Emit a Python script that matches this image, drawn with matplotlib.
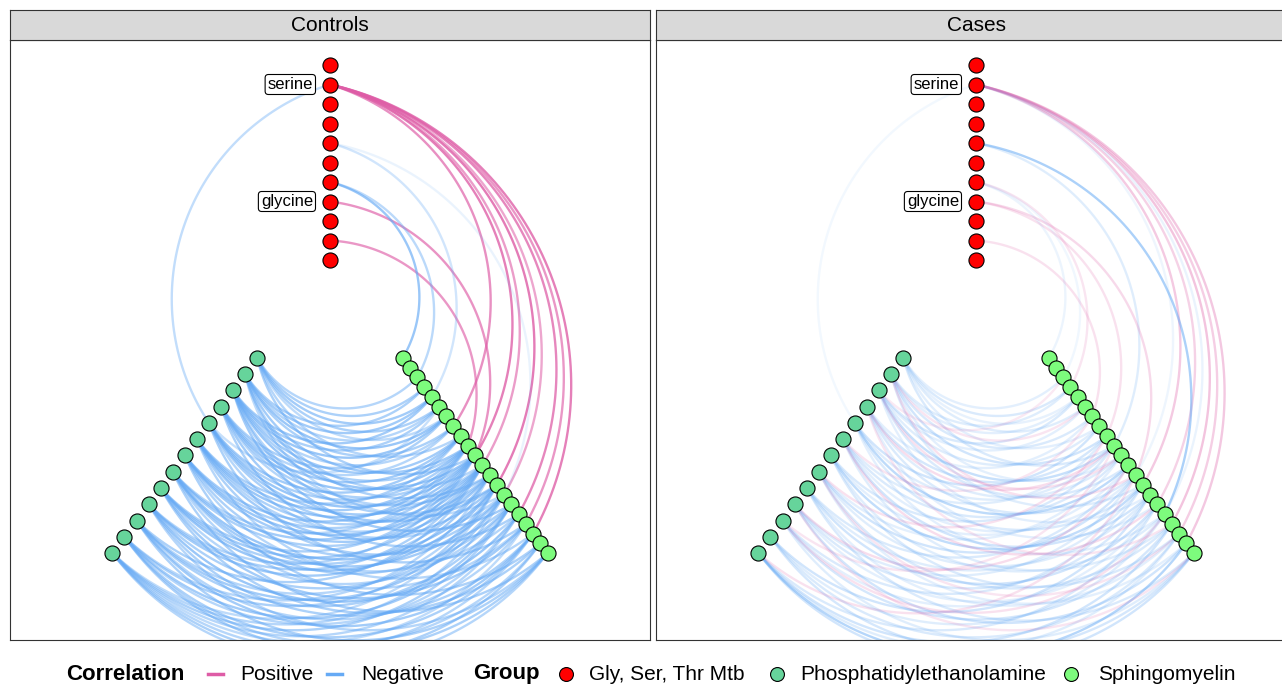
import numpy as np
import matplotlib
matplotlib.use('Agg')
import matplotlib.pyplot as plt
from matplotlib.lines import Line2D

plt.rcParams['font.family'] = ['Liberation Sans', 'DejaVu Sans']

# ---- data -------------------------------------------------------------
# hive axes: number of nodes on each axis (index 0 = closest to the centre)
n_red = 11   # Gly, Ser, Thr Mtb
n_pe = 13    # Phosphatidylethanolamine
n_sm = 21    # Sphingomyelin
red_labels = {9: 'serine', 3: 'glycine'}

# edges: (from node, [to nodes], [correlation])
ctrl_red_sm = [
    (9, [7, 10, 11, 13, 14, 16, 17, 18], [0.62, 0.70, 0.55, 0.72, 0.50, 0.66, 0.58, 0.70]),
    (3, [10], [0.60]),
    (1, [9], [0.58]),
    (6, [4, 14], [-0.30, -0.16]),
    (4, [0, 2], [-0.60, -0.42]),
]
ctrl_red_pe = [(9, [4], [-0.38])]
ctrl_pe_sm = [
    (0, [2, 3, 4, 5, 6, 8, 10], [-0.45, -0.50, -0.55, -0.50, -0.40, -0.45, -0.50]),
    (1, [3, 4, 5, 6, 7, 9, 11, 12, 14], [-0.50, -0.55, -0.45, -0.60, -0.50, -0.55, -0.45, -0.50, -0.40]),
    (2, [4, 5, 6, 7, 8, 9, 10, 12, 13, 15], [-0.55, -0.50, -0.60, -0.45, -0.55, -0.50, -0.60, -0.45, -0.50, -0.55]),
    (3, [6, 7, 8, 9, 10, 11, 13, 16], [-0.50, -0.45, -0.55, -0.60, -0.50, -0.45, -0.55, -0.50]),
    (4, [5, 8, 9, 10, 11, 12, 14, 17], [-0.35, -0.55, -0.50, -0.60, -0.55, -0.50, -0.45, -0.50]),
    (5, [8, 9, 10, 11, 12, 13, 15, 18], [-0.50, -0.55, -0.60, -0.50, -0.45, -0.55, -0.50, -0.45]),
    (6, [9, 10, 11, 12, 14, 16, 19], [-0.55, -0.50, -0.60, -0.55, -0.50, -0.45, -0.50]),
    (7, [9, 10, 11, 13, 14, 15, 17, 20], [-0.45, -0.55, -0.50, -0.60, -0.55, -0.50, -0.45, -0.50]),
    (8, [10, 11, 12, 13, 15, 17, 19], [-0.50, -0.55, -0.50, -0.60, -0.45, -0.55, -0.50]),
    (9, [10, 11, 12, 14, 16, 18, 20], [-0.45, -0.50, -0.55, -0.50, -0.60, -0.50, -0.45]),
    (10, [11, 13, 14, 15, 17, 18, 20], [-0.50, -0.45, -0.55, -0.50, -0.45, -0.55, -0.50]),
    (11, [12, 13, 15, 16, 18, 19, 20], [-0.45, -0.50, -0.55, -0.45, -0.50, -0.45, -0.50]),
    (12, [13, 14, 15, 16, 17, 18, 19, 20], [-0.40, -0.45, -0.50, -0.45, -0.40, -0.45, -0.50, -0.45]),
]

case_red_sm = [
    (9, [13, 15, 17, 18, 19], [0.32, 0.28, 0.35, 0.30, 0.33]),
    (9, [12, 16], [-0.14, -0.16]),
    (6, [16, 9], [-0.50, -0.22]),
    (4, [0, 2], [-0.15, -0.13]),
    (4, [3], [0.18]),
    (3, [8, 12], [0.20, 0.24]),
    (1, [6], [0.20]),
]
case_red_pe = [(9, [4], [-0.12])]
case_pe_sm = [
    (0, [2, 3, 4, 5, 7, 9], [-0.20, -0.25, -0.18, -0.22, -0.20, -0.25]),
    (1, [3, 4, 6, 8, 10, 13], [-0.22, -0.20, -0.25, -0.30, -0.20, -0.22]),
    (2, [4, 5, 7, 9, 11, 14], [-0.25, -0.20, -0.22, -0.35, -0.25, -0.20]),
    (3, [6, 8, 10, 12, 15], [-0.20, -0.28, -0.22, -0.25, -0.20]),
    (4, [7, 9, 11, 13, 16], [-0.30, -0.22, -0.40, -0.25, -0.20]),
    (5, [8, 10, 12, 14, 17], [-0.22, -0.25, -0.20, -0.30, -0.22]),
    (6, [9, 11, 13, 16, 18], [-0.25, -0.20, -0.38, -0.22, -0.25]),
    (7, [10, 12, 14, 17, 19], [-0.20, -0.30, -0.22, -0.25, -0.20]),
    (8, [11, 13, 15, 18, 20], [-0.25, -0.22, -0.30, -0.20, -0.25]),
    (9, [12, 14, 16, 19], [-0.22, -0.25, -0.20, -0.30]),
    (10, [13, 15, 17, 20], [-0.25, -0.20, -0.28, -0.22]),
    (11, [14, 16, 18, 20], [-0.30, -0.22, -0.25, -0.28]),
    (12, [15, 17, 18, 19, 20], [-0.25, -0.30, -0.22, -0.45, -0.30]),
    (1, [5, 12], [0.18, 0.20]),
    (2, [2, 10], [0.16, 0.20]),
    (3, [9, 17], [0.22, 0.18]),
    (5, [6, 15], [0.18, 0.22]),
    (7, [8, 18], [0.20, 0.18]),
    (9, [11, 20], [0.22, 0.18]),
    (10, [9, 16], [0.18, 0.20]),
    (12, [12], [0.20]),
]

panels = ['Controls', 'Cases']
group_names = ['Gly, Ser, Thr Mtb', 'Phosphatidylethanolamine', 'Sphingomyelin']

# ---- layout / style -----------------------------------------------------
group_cols = {'red': '#FF0000', 'pe': '#66D49B', 'sm': '#7DFB7D'}
pos_col = '#DE5CA6'
neg_col = '#66AAF5'
axis_angle = {'red': 90.0, 'pe': 233.4, 'sm': 306.6}
axis_r = {'red': np.linspace(0, 195, n_red),
          'pe': np.linspace(122, 365, n_pe),
          'sm': np.linspace(122, 365, n_sm)}


def node_xy(axis, i):
    a = np.deg2rad(axis_angle[axis])
    r = axis_r[axis][i]
    return np.array([r * np.cos(a), r * np.sin(a)])


def arc(p0, p1, curv=0.5, n=80):
    # circular arc between two nodes, bulging away from the hive centre
    mid = (p0 + p1) / 2
    d = p1 - p0
    L = np.hypot(d[0], d[1])
    perp = np.array([-d[1], d[0]]) / L
    if np.dot(perp, mid) < 0:
        perp = -perp
    h = L / 2
    s = curv * h
    R = (h * h + s * s) / (2 * s)
    c = mid - (R - s) * perp
    a0 = np.arctan2(p0[1] - c[1], p0[0] - c[0])
    a1 = np.arctan2(p1[1] - c[1], p1[0] - c[0])
    da = (a1 - a0 + np.pi) % (2 * np.pi) - np.pi
    t = np.linspace(a0, a0 + da, n)
    return c[0] + R * np.cos(t), c[1] + R * np.sin(t)


def alpha_of(r):
    return float(np.interp(abs(r), [0.1, 0.8], [0.06, 0.9]))


def draw_edges(ax, edges, ax_from, ax_to):
    for src, dsts, rs in edges:
        for dst, r in zip(dsts, rs):
            x, y = arc(node_xy(ax_from, src), node_xy(ax_to, dst))
            ax.plot(x, y, color=pos_col if r > 0 else neg_col,
                    alpha=alpha_of(r), lw=1.7, solid_capstyle='butt', zorder=2)


W, H = 1282, 684
fig = plt.figure(figsize=(W / 100, H / 100), dpi=100)

panel_left = [10, 656]
panel_edges = [(ctrl_red_sm, ctrl_red_pe, ctrl_pe_sm), (case_red_sm, case_red_pe, case_pe_sm)]

for k, name in enumerate(panels):
    x0 = panel_left[k] / W
    ax = fig.add_axes([x0, 44 / H, 640 / W, 600 / H])
    ax.set_xlim(-320, 320)
    ax.set_ylim(-380, 220)
    ax.set_xticks([])
    ax.set_yticks([])
    for sp in ax.spines.values():
        sp.set_color('#333333')
        sp.set_linewidth(0.8)

    red_sm, red_pe, pe_sm = panel_edges[k]
    draw_edges(ax, pe_sm, 'pe', 'sm')
    draw_edges(ax, red_pe, 'red', 'pe')
    draw_edges(ax, red_sm, 'red', 'sm')

    for axis, n in [('red', n_red), ('pe', n_pe), ('sm', n_sm)]:
        pts = np.array([node_xy(axis, i) for i in range(n)])
        ax.scatter(pts[:, 0], pts[:, 1], s=118, color=group_cols[axis],
                   edgecolor='black', linewidth=0.8, zorder=5)

    for i, lab in red_labels.items():
        p = node_xy('red', i)
        ax.annotate(lab, xy=p, xytext=(-17, 0), textcoords='offset pixels',
                    ha='right', va='center', fontsize=12, zorder=6,
                    bbox=dict(boxstyle='round,pad=0.15,rounding_size=0.2',
                              fc='white', ec='black', lw=0.8))

    # facet strip
    sax = fig.add_axes([x0, (H - 40) / H, 640 / W, 30 / H])
    sax.set_facecolor('#D9D9D9')
    sax.set_xticks([])
    sax.set_yticks([])
    for sp in sax.spines.values():
        sp.set_color('#333333')
        sp.set_linewidth(0.8)
    sax.text(0.5, 0.47, name, ha='center', va='center', fontsize=15,
             transform=sax.transAxes)

# ---- legend -------------------------------------------------------------
ly = (H - 674) / H
fig.text(66 / W, ly, 'Correlation', fontsize=16, fontweight='bold', va='center')
fig.add_artist(Line2D([208 / W, 223 / W], [ly, ly], color=pos_col, lw=2.5))
fig.text(240 / W, ly, 'Positive', fontsize=15, va='center')
fig.add_artist(Line2D([327 / W, 342 / W], [ly, ly], color=neg_col, lw=2.5))
fig.text(361 / W, ly, 'Negative', fontsize=15, va='center')
fig.text(473 / W, ly, 'Group', fontsize=16, fontweight='bold', va='center')
for xd, xt, col, lab in [(566, 589, group_cols['red'], group_names[0]),
                         (777, 800, group_cols['pe'], group_names[1]),
                         (1071, 1098, group_cols['sm'], group_names[2])]:
    fig.add_artist(Line2D([xd / W], [ly], marker='o', markersize=10,
                          markerfacecolor=col, markeredgecolor='black',
                          markeredgewidth=0.8, linestyle='none'))
    fig.text(xt / W, ly, lab, fontsize=15, va='center')

fig.savefig('out.png', dpi=100)
